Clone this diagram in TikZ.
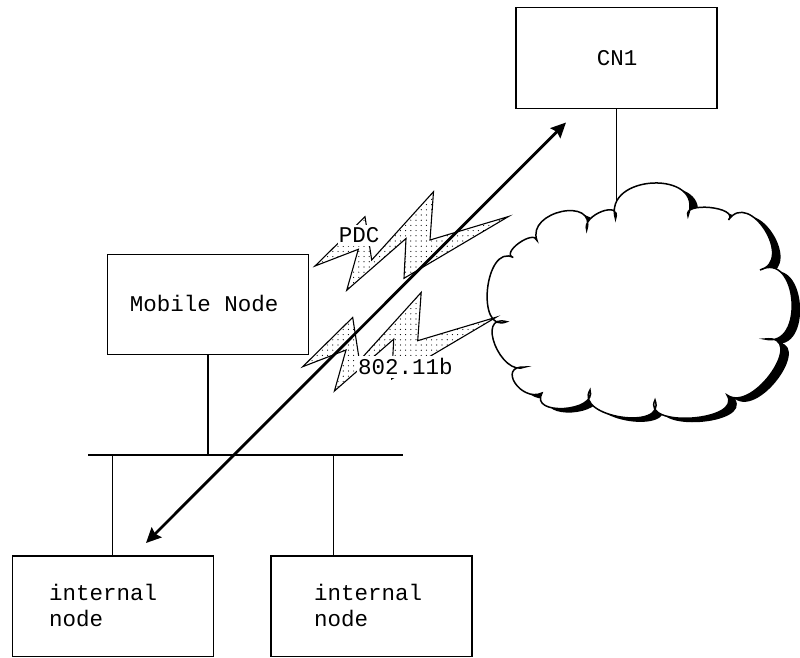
\documentclass[tikz,border=0pt]{standalone}
\usepackage{fontspec}
\setmonofont{Liberation Mono}
\usetikzlibrary{calc,arrows.meta,patterns.meta}
\tikzset{
  bump/.style n args={3}{insert path={
    .. controls ($0.55*(#1)+1.333*(#2)-0.883*(#3)$)
       and ($0.55*(#3)+1.333*(#2)-0.883*(#1)$) .. (#3)}},
}
\begin{document}
\begin{tikzpicture}[x=1pt,y=-1pt,
  hostbox/.style={draw, line width=1.2pt, rectangle, inner sep=0pt,
                  minimum width=201pt, minimum height=100.5pt},
  lbl/.style={font=\ttfamily\fontsize{22.5}{26}\selectfont, inner sep=0pt},
  tag/.style={lbl, fill=white, inner sep=1.2pt, text height=17pt, text depth=2.5pt},
  wire/.style={line width=1.2pt},
  bolt/.style={draw, line width=1.1pt, line join=miter,
               pattern={Dots[radius=0.6pt, distance=5.2pt]}, pattern color=black},
  cloudline/.style={draw, line width=1.5pt, fill=white},
  cloudshadow/.style={fill=black},
  bigarrow/.style={line width=2.8pt,
                   {Stealth[length=15pt,width=14pt,inset=2pt]}-{Stealth[length=15pt,width=14pt,inset=2pt]}},
]
\useasboundingbox (0,0) rectangle (800,657);

% hosts
\node[hostbox] (cn) at (616.5,58) {};
\node[hostbox] (mn) at (208,304.5) {};
\node[hostbox] (il) at (112.7,606.2) {};
\node[hostbox] (ir) at (371.5,606.2) {};

\node[lbl, anchor=base] (cnlbl) at (617,65) {CN1};
\node[lbl, anchor=base] (mnlbl) at (204.2,311.7) {Mobile Node};
\node[lbl, anchor=base west] (il1) at (49,600) {internal};
\node[lbl, anchor=base west] (il2) at (49,626.7) {node};
\node[lbl, anchor=base west] (ir1) at (314,600) {internal};
\node[lbl, anchor=base west] (ir2) at (314,626.7) {node};

% local segment
\coordinate (busL) at (88,455);
\coordinate (busR) at (403,455);
\coordinate (irtap) at (333.3,556);
\draw[wire] (busL) -- (busR);
\draw[wire] (mn.south) -- (mn.south |- busL);
\draw[wire] (il.north) -- (il.north |- busL);
\draw[wire] (irtap) -- (irtap |- busL);

% cloud outline points
\coordinate (A) at (506.7,321.7);  \coordinate (ab) at (487.5,289);
\coordinate (B) at (513.3,257.5);  \coordinate (bc) at (519,243);
\coordinate (C) at (537,240.5);    \coordinate (cd) at (561.7,211.5);
\coordinate (D) at (586.7,230);    \coordinate (de) at (601.7,211.5);
\coordinate (E) at (615.5,219);    \coordinate (ef) at (653.3,183);
\coordinate (F) at (688,216);      \coordinate (fg) at (710,207.5);
\coordinate (G) at (728.5,220);    \coordinate (gh) at (765,230);
\coordinate (H) at (760,270);      \coordinate (hi) at (792,301);
\coordinate (I) at (765,339);      \coordinate (ij) at (772,372);
\coordinate (J) at (727,395);      \coordinate (jk) at (692,418);
\coordinate (K) at (655,400);      \coordinate (kl) at (621,417);
\coordinate (L) at (590,390);      \coordinate (lm) at (564,408.5);
\coordinate (M) at (542,393);      \coordinate (mn2) at (515,383);
\coordinate (N) at (525,367);      \coordinate (na) at (495,345);

% uplink from CN1 into the cloud
\draw[wire] (cn.south) -- (cn.south |- E);

% cloud with drop shadow
\path[cloudshadow, transform canvas={shift={(8,4)}}]
  (A) [bump={A}{ab}{B}] [bump={B}{bc}{C}] [bump={C}{cd}{D}] [bump={D}{de}{E}]
      [bump={E}{ef}{F}] [bump={F}{fg}{G}] [bump={G}{gh}{H}] [bump={H}{hi}{I}]
      [bump={I}{ij}{J}] [bump={J}{jk}{K}] [bump={K}{kl}{L}] [bump={L}{lm}{M}]
      [bump={M}{mn2}{N}] [bump={N}{na}{A}] -- cycle;
\path[cloudline]
  (A) [bump={A}{ab}{B}] [bump={B}{bc}{C}] [bump={C}{cd}{D}] [bump={D}{de}{E}]
      [bump={E}{ef}{F}] [bump={F}{fg}{G}] [bump={G}{gh}{H}] [bump={H}{hi}{I}]
      [bump={I}{ij}{J}] [bump={J}{jk}{K}] [bump={K}{kl}{L}] [bump={L}{lm}{M}]
      [bump={M}{mn2}{N}] [bump={N}{na}{A}] -- cycle;

% radio links
\def\boltshape{(0,0) -- (50,-49.3) -- (56.7,-6) -- (118.5,-74.3) -- (115,-26)
  -- (193.5,-49.5) -- (89,12.3) -- (91,-27.5) -- (31.7,24.3) -- (43.3,-16.7) -- cycle}
\begin{scope}[shift={(315,266)}]
  \path[bolt] \boltshape;
\end{scope}
\begin{scope}[shift={(302.7,366.7)}]
  \path[bolt] \boltshape;
\end{scope}
\node[tag, anchor=base] (pdc) at (359,242.7) {PDC};
\node[tag, anchor=base] (wlan) at (405.3,374.3) {802.11b};

% end-to-end path
\coordinate (arrA) at (146,543);
\coordinate (arrB) at (566,122.5);
\draw[bigarrow] (arrA) -- (arrB);
\end{tikzpicture}
\end{document}
